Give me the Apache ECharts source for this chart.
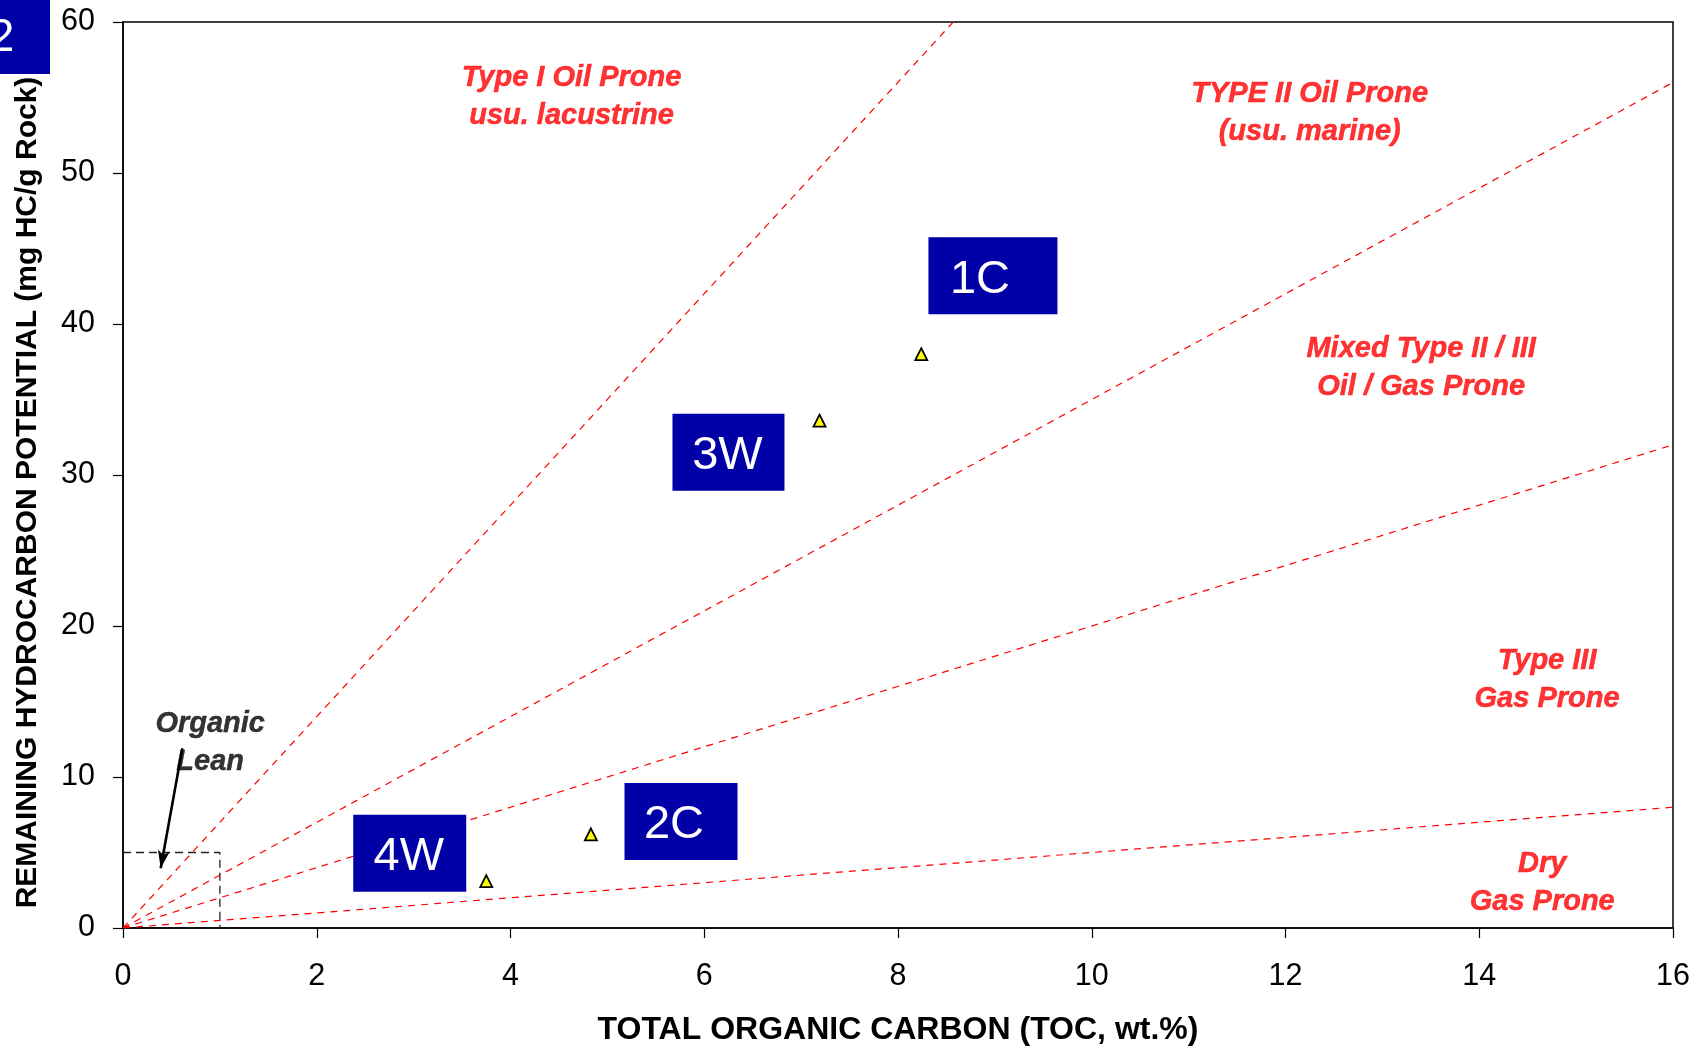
<!DOCTYPE html>
<html>
<head>
<meta charset="utf-8">
<style>
html,body{margin:0;padding:0;background:#fff;}
#chart{width:1694px;height:1046px;}
</style>
<script src="https://cdn.jsdelivr.net/npm/echarts@6/dist/echarts.min.js"></script>
</head>
<body>
<div id="chart"></div>
<script>
// ---- data ----
const sampleNames = ['1C', '3W', '2C', '4W'];
const sampleTOC = [8.24, 7.19, 4.83, 3.75];
const sampleHC = [38.0, 33.6, 6.2, 3.1];

// label boxes for samples (data coordinates of box centres)
const sampleBoxTOC = [8.98, 6.25, 5.76, 2.96];
const sampleBoxHC = [43.2, 31.5, 7.05, 4.95];

// kerogen type boundary lines (from origin)
const boundaryNames = ['Type I / II', 'Type II / Mixed', 'Mixed / Type III', 'Type III / Dry'];
const boundaryEndTOC = [8.57, 16, 16, 16];
const boundaryEndHC = [60, 56, 32, 8];

// organic lean box
const leanBoxTOC = [0, 1, 1];
const leanBoxHC = [5, 5, 0];
// arrow
const arrowTOC = [0.613, 0.389];
const arrowHC = [11.9, 3.95];

// zone labels
const zoneTexts = ['Type I Oil Prone\nusu. lacustrine', 'TYPE II Oil Prone\n(usu. marine)',
  'Mixed Type II / III\nOil / Gas Prone', 'Type III\nGas Prone', 'Dry\nGas Prone'];
const zoneTOC = [4.63, 12.25, 13.40, 14.70, 14.65];
const zoneHC = [55.25, 54.2, 37.3, 16.6, 3.15];
const leanText = 'Organic\nLean';
const leanTOC = 0.9;
const leanHC = 12.4;

const xTicks = { min: 0, max: 16, interval: 2 };
const yTicks = { min: 0, max: 60, interval: 10 };

// ---- chart ----
const FONT = 'Liberation Sans, Arial, Helvetica, sans-serif';
const chart = echarts.init(document.getElementById('chart'), null, { renderer: 'canvas' });

const series = [];

boundaryNames.forEach((n, i) => {
  series.push({
    name: n, type: 'line', silent: true, symbol: 'none', z: 2,
    data: [[0, 0], [boundaryEndTOC[i], boundaryEndHC[i]]],
    lineStyle: { color: '#ff0000', width: 1.2, type: [7, 6] }
  });
});

series.push({
  name: 'Organic Lean', type: 'line', silent: true, symbol: 'none', z: 2,
  data: leanBoxTOC.map((x, i) => [x, leanBoxHC[i]]),
  lineStyle: { color: '#222', width: 1.3, type: [8, 5] },
  markLine: {
    silent: true, symbol: ['none', 'arrow'], symbolSize: [9, 18],
    label: { show: false },
    lineStyle: { color: '#000', width: 2.6, type: 'solid' },
    data: [[{ coord: [arrowTOC[0], arrowHC[0]] }, { coord: [arrowTOC[1], arrowHC[1]] }]]
  }
});

series.push({
  name: 'Zones', type: 'scatter', silent: true, symbolSize: 0, z: 3,
  data: zoneTOC.map((x, i) => ({ value: [x, zoneHC[i]], label: { formatter: zoneTexts[i] } })),
  label: {
    show: true, position: 'inside', color: '#ff0000', fontFamily: FONT, offset: [0, 3],
    fontSize: 29, fontWeight: 'bold', fontStyle: 'italic', lineHeight: 38, align: 'center',
    textBorderColor: '#ff0000', textBorderWidth: 0.5
  }
});

series.push({
  name: 'Lean', type: 'scatter', silent: true, symbolSize: 0, z: 3,
  data: [{ value: [leanTOC, leanHC], label: { formatter: leanText } }],
  label: {
    show: true, position: 'inside', color: '#000', fontFamily: FONT, offset: [0, 2.5],
    fontSize: 29, fontWeight: 'bold', fontStyle: 'italic', lineHeight: 38, align: 'center',
    textBorderColor: '#000', textBorderWidth: 0.4
  }
});

const boxSizes = [[129, 77], [112, 77], [113, 77], [113, 77]];
const boxOffsets = [[-13, 4], [-1, 4], [-7, 4], [-1, 4]];
series.push({
  name: 'Sample labels', type: 'scatter', silent: true, symbol: 'rect', z: 4,
  data: sampleNames.map((n, i) => ({
    value: [sampleBoxTOC[i], sampleBoxHC[i]],
    symbolSize: boxSizes[i],
    label: { formatter: n, offset: boxOffsets[i] }
  })),
  itemStyle: { color: '#0000a6', opacity: 1 },
  label: { show: true, position: 'inside', color: '#fff', fontFamily: FONT, fontSize: 47 }
});

series.push({
  name: 'Samples', type: 'scatter', symbol: 'triangle', symbolSize: 12, z: 5,
  data: sampleTOC.map((x, i) => [x, sampleHC[i]]),
  itemStyle: { color: '#ffff00', borderColor: '#000', borderWidth: 1.8, opacity: 1 }
});

chart.setOption({
  animation: false,
  backgroundColor: '#fff',
  grid: { left: 123, right: 21, top: 22, bottom: 118, containLabel: false, outerBoundsMode: 'none',
    show: true, borderColor: '#000', borderWidth: 1.5, backgroundColor: 'transparent' },
  xAxis: {
    type: 'value', min: xTicks.min, max: xTicks.max, interval: xTicks.interval,
    name: 'TOTAL ORGANIC CARBON (TOC, wt.%)', nameLocation: 'middle', nameGap: 86,
    nameTextStyle: { fontFamily: FONT, fontSize: 32, fontWeight: 'bold', color: '#000' },
    axisLine: { show: true, onZero: false, lineStyle: { color: '#000', width: 1.5 } },
    axisTick: { show: true, inside: false, length: 10, lineStyle: { color: '#000', width: 1.2 } },
    axisLabel: { fontFamily: FONT, fontSize: 30.5, color: '#000', margin: 33 },
    splitLine: { show: false }
  },
  yAxis: {
    type: 'value', min: yTicks.min, max: yTicks.max, interval: yTicks.interval,
    name: 'REMAINING HYDROCARBON POTENTIAL (mg HC/g Rock)', nameLocation: 'middle', nameGap: 80,
    nameRotate: 90,
    nameTextStyle: { fontFamily: FONT, fontSize: 30, fontWeight: 'bold', color: '#000', padding: [0, 35, 0, 0] },
    axisLine: { show: true, onZero: false, lineStyle: { color: '#000', width: 1.5 } },
    axisTick: { show: true, inside: false, length: 10, lineStyle: { color: '#000', width: 1.2 } },
    axisLabel: { fontFamily: FONT, fontSize: 30.5, color: '#000', margin: 28 },
    splitLine: { show: false }
  },
  graphic: [
    { type: 'rect', left: 0, top: 0, shape: { width: 50, height: 74 }, style: { fill: '#0000a6' }, z: 10 },
    { type: 'text', x: 1.5, y: 38.5, style: { text: '2', fill: '#fff', font: '46px ' + FONT,
      textAlign: 'center', textVerticalAlign: 'middle' }, z: 11 }
  ],
  series: series
});
</script>
</body>
</html>
